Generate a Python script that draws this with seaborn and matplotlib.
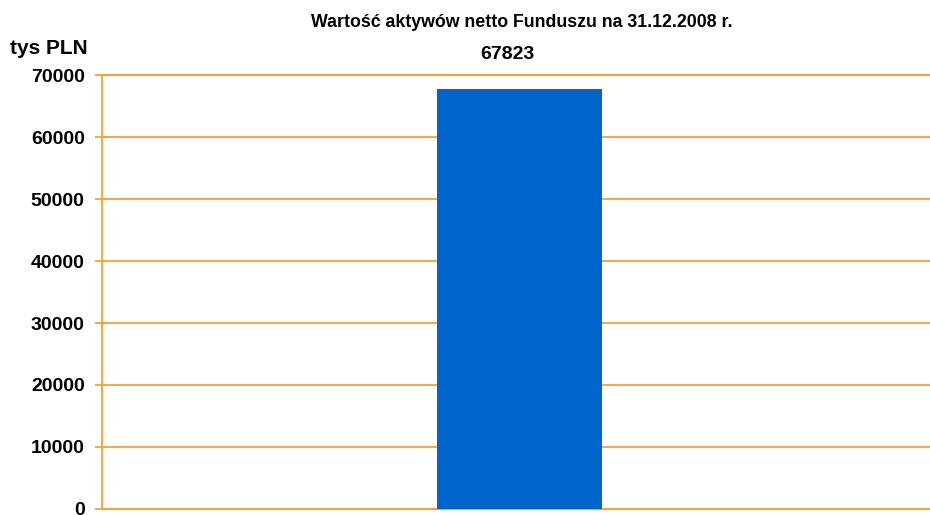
import matplotlib
matplotlib.use("Agg")
import matplotlib.pyplot as plt
import seaborn as sns
import pandas as pd

categories = ["31.12.2008"]
values = [67823]
title = "Wartość aktywów netto Funduszu na 31.12.2008 r."
unit = "tys PLN"
yticks = [0, 10000, 20000, 30000, 40000, 50000, 60000, 70000]

sns.set_style("white")
plt.rcParams["font.family"] = ["Liberation Sans", "DejaVu Sans"]
plt.rcParams["text.color"] = "black"
plt.rcParams["ytick.labelcolor"] = "black"

orange = "#F7A12B"
df = pd.DataFrame({"kat": categories, "wartosc": values})

fig = plt.figure(figsize=(9.3, 5.15), dpi=100)
ax = fig.add_axes([0.1097, 0.0117, 0.898, 0.8426])

sns.barplot(data=df, x="kat", y="wartosc", color="#0066CC", width=0.198,
            saturation=1, linewidth=0, edgecolor="none", ax=ax, zorder=3)

ax.set_xlim(-0.5, 0.5)
ax.set_ylim(0, 70000)
ax.set_yticks(yticks)
ax.set_yticklabels([str(t) for t in yticks], fontsize=14, fontweight="bold",
                   color="black")
ax.set_xticks([])
ax.set_xlabel("")
ax.set_ylabel("")
ax.grid(axis="y", color=orange, linewidth=1.3, alpha=1, zorder=0)
ax.set_axisbelow(True)
for s in ["top", "right", "bottom"]:
    ax.spines[s].set_visible(False)
ax.spines["left"].set_color(orange)
ax.spines["left"].set_linewidth(1.3)
for yl in [yticks[0], yticks[-1]]:
    ax.axhline(yl, color=orange, linewidth=1.4, clip_on=False, zorder=1)
ax.tick_params(axis="y", left=True, length=5, width=1.3, color=orange, pad=7.5)

for i, v in enumerate(values):
    ax.annotate(str(v), (i, 70000), xytext=(-9, 14.5), textcoords="offset points",
                ha="center", va="center", fontsize=14, fontweight="bold",
                color="black")

fig.text(0.561, 0.957, title, ha="center", va="center", fontsize=12.8,
         fontweight="bold", color="black")
fig.text(0.0527, 0.906, unit, ha="center", va="center", fontsize=15,
         fontweight="bold", color="black")

fig.savefig("out.png", dpi=100)
